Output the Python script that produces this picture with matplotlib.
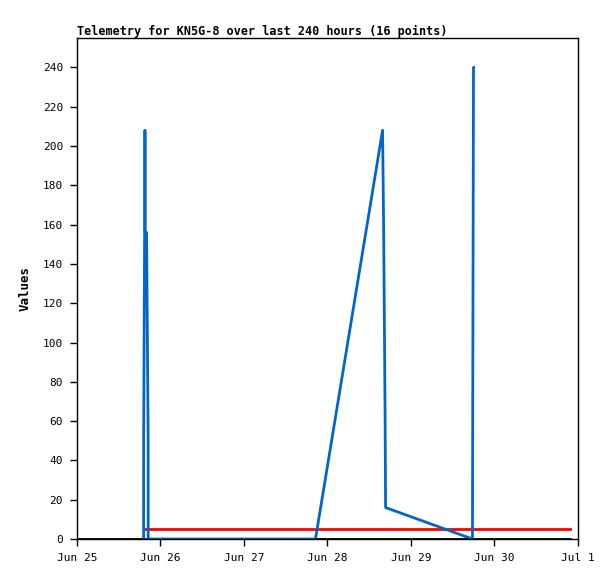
import numpy as np
import pandas as pd
import matplotlib
matplotlib.use("Agg")
import matplotlib.pyplot as plt
import matplotlib.dates as mdates

# telemetry samples (16 points)
times = pd.to_datetime([
    "2024-06-25 19:09", "2024-06-25 19:10", "2024-06-25 19:26", "2024-06-25 19:32",
    "2024-06-25 19:38", "2024-06-25 20:00", "2024-06-25 20:27", "2024-06-25 20:28",
    "2024-06-27 20:33", "2024-06-28 15:50", "2024-06-28 16:08", "2024-06-28 16:33",
    "2024-06-28 16:42", "2024-06-29 17:40", "2024-06-29 17:58", "2024-06-29 18:00",
])
values = [0, 52, 156, 208, 156, 156, 52, 0,
          0, 208, 160, 65, 16, 0, 240, 240]

# reference lines
thresh_times = pd.to_datetime(["2024-06-25 19:36", "2024-06-30 21:40"])
thresh_values = [5, 5]
zero_times = pd.to_datetime(["2024-06-25 00:00", "2024-06-30 21:40"])
zero_values = [0, 0]

plt.rcParams['font.family'] = ['DejaVu Sans Mono']

fig = plt.figure(figsize=(6.15, 5.79), dpi=100)
ax = fig.add_axes([0.1252, 0.0691, 0.8146, 0.8653])

ax.plot(zero_times, zero_values, color='black', lw=2)
ax.plot(thresh_times, thresh_values, color='#ff0000', lw=2)
ax.plot(times, values, color='#0066cc', lw=2)

ax.set_xlim(pd.Timestamp("2024-06-25"), pd.Timestamp("2024-07-01"))
ax.set_ylim(0, 255)
ax.set_yticks(np.arange(0, 241, 20))
ax.xaxis.set_major_locator(mdates.DayLocator())
ax.xaxis.set_major_formatter(mdates.DateFormatter('%b %-d'))
ax.tick_params(axis='both', labelsize=8, direction='out', length=5, width=1,
               top=False, right=False, pad=5)
for s in ax.spines.values():
    s.set_linewidth(1)

ax.set_ylabel('Values', fontsize=9, fontweight='bold', labelpad=8)
ax.set_title('Telemetry for KN5G-8 over last 240 hours (16 points)',
             fontsize=8.5, fontweight='bold', loc='left', pad=2)

fig.savefig('out.png', dpi=100, facecolor='white')
